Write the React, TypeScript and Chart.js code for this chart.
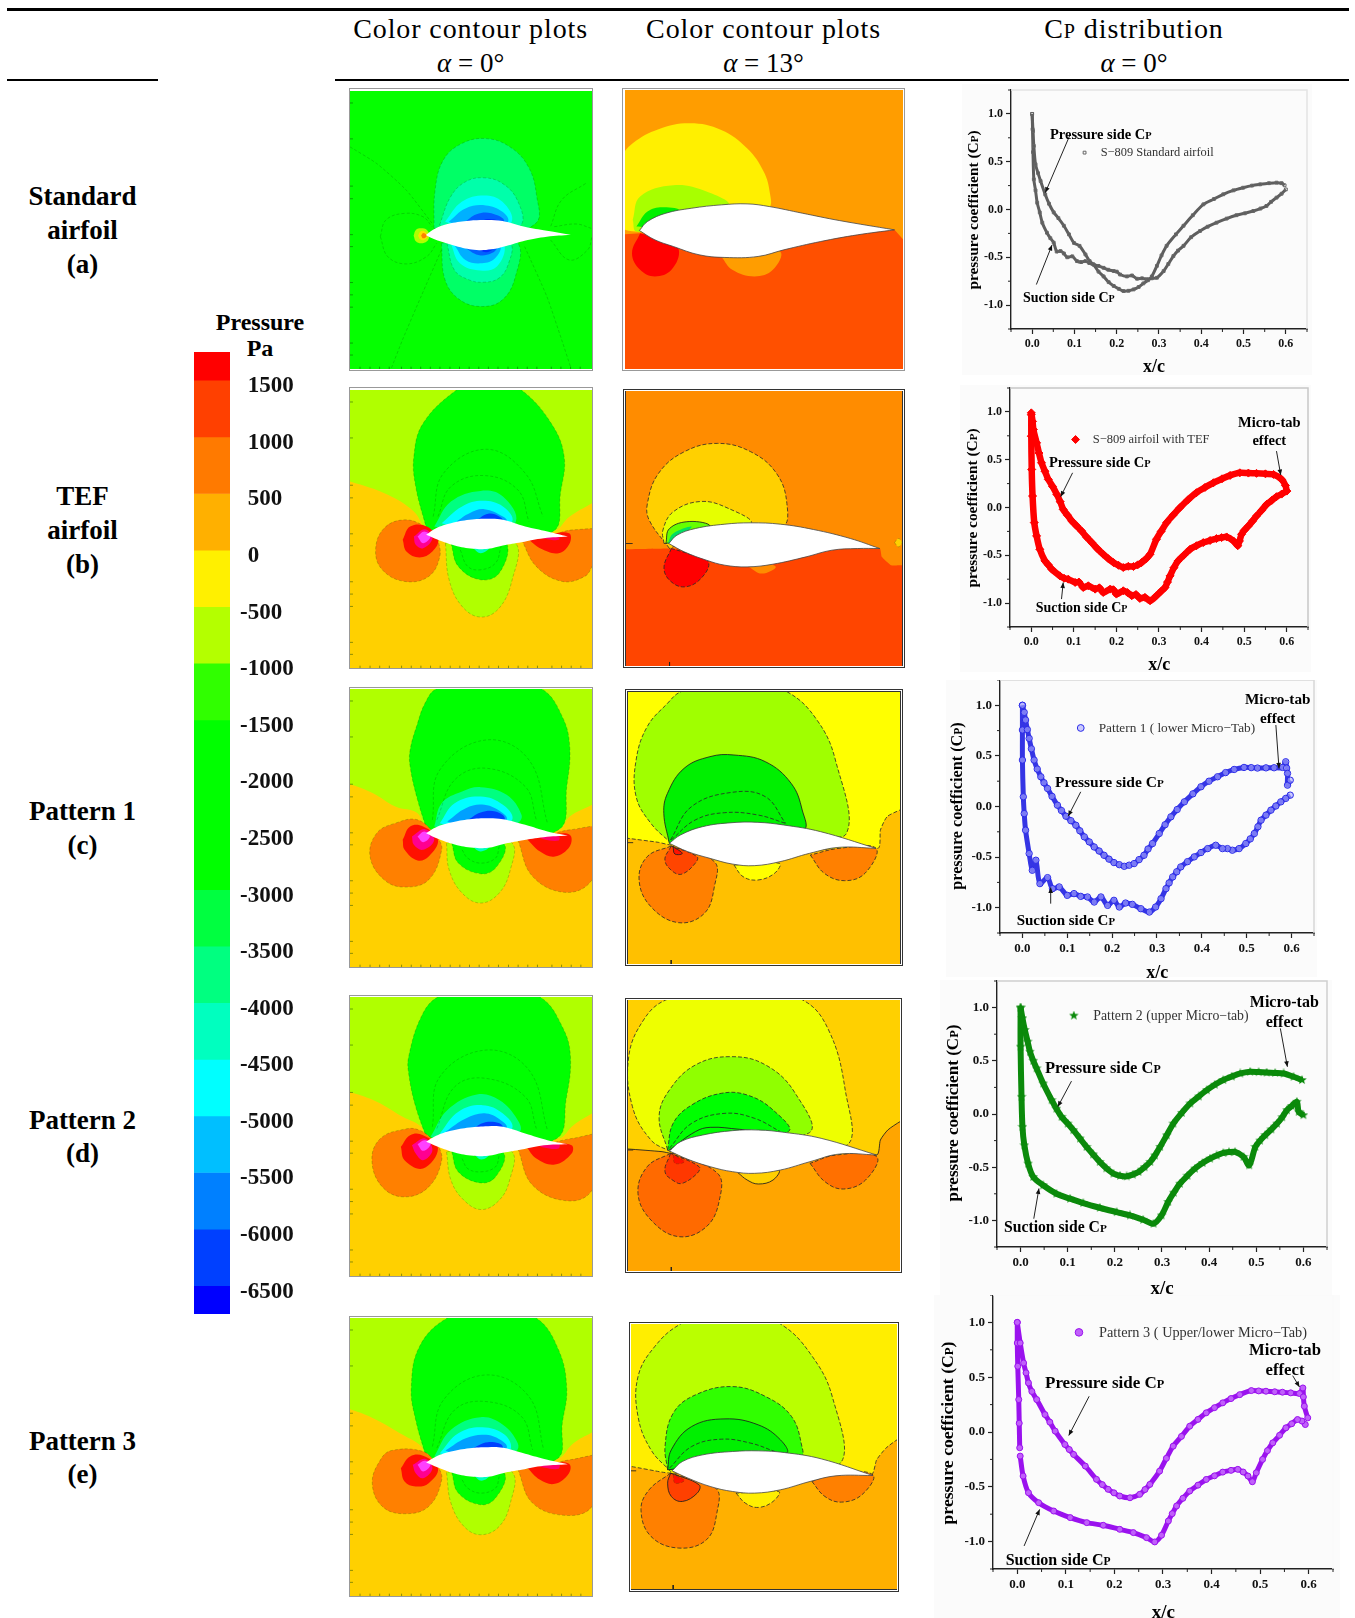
import React, { useEffect, useRef } from "react";
import { Chart, registerables } from "chart.js";
Chart.register(...registerables);

const SERIF = '"Liberation Serif", serif';

// ---------- Colour bar ----------
const pressureBounds = [1750, 1500, 1000, 500, 0, -500, -1000, -1500, -2000, -2500, -3000, -3500, -4000, -4500, -5000, -5500, -6000, -6500, -6750];
const pressureColors = ["#ff0000", "#ff4000", "#ff7a00", "#ffb000", "#fff000", "#b4ff00", "#30ff00", "#00ff00", "#00ff00", "#00ff00", "#00ff40", "#00ff80", "#00ffbf", "#00ffff", "#00bfff", "#0080ff", "#0040ff", "#0000ff"];
const pressureTicks = [1500, 1000, 500, 0, -500, -1000, -1500, -2000, -2500, -3000, -3500, -4000, -4500, -5000, -5500, -6000, -6500];

// ---------- Cp distributions [x/c, Cp] ----------
const standardPressure = [[0,1],[0.002,0.82],[0.004,0.665],[0.008,0.473],[0.014,0.38],[0.02,0.298],[0.031,0.157],[0.04,0.06],[0.051,-0.03],[0.062,-0.09],[0.075,-0.17],[0.087,-0.26],[0.099,-0.35],[0.112,-0.38],[0.126,-0.47],[0.136,-0.54],[0.145,-0.575],[0.157,-0.65],[0.169,-0.70],[0.181,-0.76],[0.193,-0.80],[0.205,-0.83],[0.216,-0.853],[0.228,-0.85],[0.24,-0.836],[0.252,-0.81],[0.263,-0.773],[0.274,-0.74],[0.283,-0.70],[0.295,-0.59],[0.306,-0.48],[0.318,-0.38],[0.34,-0.26],[0.358,-0.17],[0.38,-0.06],[0.405,0.054],[0.43,0.11],[0.452,0.159],[0.476,0.2],[0.499,0.228],[0.52,0.25],[0.539,0.263],[0.56,0.275],[0.578,0.281],[0.59,0.275],[0.597,0.253]];
const standardSuction = [[0.6,0.21],[0.59,0.165],[0.578,0.124],[0.565,0.08],[0.554,0.037],[0.54,0.01],[0.523,-0.016],[0.503,-0.04],[0.483,-0.06],[0.46,-0.095],[0.436,-0.138],[0.415,-0.18],[0.397,-0.225],[0.376,-0.29],[0.358,-0.38],[0.345,-0.43],[0.334,-0.487],[0.322,-0.57],[0.311,-0.644],[0.295,-0.714],[0.283,-0.72],[0.271,-0.73],[0.26,-0.72],[0.248,-0.724],[0.236,-0.69],[0.224,-0.70],[0.208,-0.68],[0.2,-0.65],[0.193,-0.644],[0.18,-0.63],[0.169,-0.61],[0.157,-0.59],[0.145,-0.575],[0.135,-0.56],[0.126,-0.54],[0.116,-0.55],[0.106,-0.54],[0.095,-0.49],[0.083,-0.50],[0.075,-0.46],[0.067,-0.435],[0.058,-0.44],[0.051,-0.347],[0.043,-0.30],[0.035,-0.243],[0.024,-0.138],[0.018,-0.03],[0.012,0.07],[0.008,0.2],[0.004,0.316],[0.002,0.6],[0.001,0.84],[0,1]];

const tefPressure = [[0,0.99],[0.003,0.9],[0.005,0.815],[0.0125,0.676],[0.018,0.57],[0.024,0.468],[0.032,0.38],[0.04,0.294],[0.05,0.22],[0.06,0.137],[0.068,0.06],[0.075,-0.02],[0.085,-0.08],[0.095,-0.14],[0.106,-0.19],[0.118,-0.245],[0.13,-0.31],[0.142,-0.367],[0.155,-0.43],[0.169,-0.489],[0.181,-0.535],[0.193,-0.576],[0.205,-0.605],[0.216,-0.628],[0.228,-0.615],[0.24,-0.617],[0.25,-0.6],[0.259,-0.576],[0.27,-0.535],[0.279,-0.489],[0.294,-0.332],[0.305,-0.25],[0.318,-0.158],[0.333,-0.08],[0.349,-0.002],[0.368,0.08],[0.388,0.155],[0.408,0.21],[0.428,0.259],[0.448,0.3],[0.467,0.336],[0.49,0.363],[0.51,0.36],[0.529,0.357],[0.55,0.352],[0.569,0.346],[0.588,0.294],[0.597,0.23],[0.6,0.172]];
const tefSuction = [[0.6,0.172],[0.588,0.14],[0.576,0.113],[0.565,0.075],[0.553,0.033],[0.541,-0.03],[0.529,-0.089],[0.52,-0.14],[0.51,-0.193],[0.5,-0.24],[0.494,-0.28],[0.489,-0.35],[0.485,-0.40],[0.475,-0.35],[0.459,-0.308],[0.447,-0.315],[0.435,-0.325],[0.42,-0.345],[0.404,-0.367],[0.388,-0.4],[0.373,-0.437],[0.358,-0.5],[0.345,-0.558],[0.335,-0.63],[0.326,-0.715],[0.32,-0.78],[0.314,-0.837],[0.304,-0.88],[0.294,-0.923],[0.279,-0.976],[0.267,-0.94],[0.255,-0.951],[0.246,-0.91],[0.236,-0.923],[0.226,-0.89],[0.216,-0.871],[0.2,-0.906],[0.193,-0.86],[0.185,-0.854],[0.169,-0.889],[0.16,-0.84],[0.15,-0.854],[0.134,-0.819],[0.122,-0.837],[0.112,-0.78],[0.103,-0.784],[0.087,-0.75],[0.077,-0.74],[0.067,-0.715],[0.048,-0.645],[0.04,-0.6],[0.032,-0.558],[0.02,-0.437],[0.0125,-0.297],[0.007,-0.158],[0.003,0.12],[0.001,0.398],[0,0.746],[0,0.97]];

const pattern1Pressure = [[0,1],[0.004,0.93],[0.007,0.855],[0.011,0.76],[0.015,0.673],[0.02,0.57],[0.026,0.459],[0.033,0.37],[0.041,0.294],[0.048,0.235],[0.056,0.178],[0.066,0.1],[0.078,0.013],[0.087,-0.04],[0.097,-0.096],[0.108,-0.14],[0.119,-0.185],[0.128,-0.24],[0.138,-0.30],[0.149,-0.35],[0.16,-0.40],[0.171,-0.44],[0.182,-0.482],[0.193,-0.52],[0.204,-0.554],[0.216,-0.575],[0.227,-0.591],[0.238,-0.58],[0.249,-0.564],[0.26,-0.525],[0.271,-0.482],[0.28,-0.42],[0.29,-0.366],[0.305,-0.267],[0.318,-0.18],[0.331,-0.102],[0.345,-0.03],[0.361,0.046],[0.38,0.125],[0.398,0.195],[0.416,0.25],[0.435,0.294],[0.453,0.335],[0.472,0.366],[0.494,0.386],[0.51,0.384],[0.524,0.38],[0.543,0.382],[0.561,0.383],[0.58,0.386],[0.587,0.442],[0.589,0.38],[0.591,0.327],[0.591,0.211],[0.597,0.26]];
const pattern1Suction = [[0.597,0.112],[0.587,0.08],[0.576,0.046],[0.565,0.005],[0.554,-0.036],[0.543,-0.085],[0.532,-0.135],[0.525,-0.2],[0.517,-0.267],[0.508,-0.32],[0.498,-0.366],[0.483,-0.416],[0.468,-0.432],[0.457,-0.416],[0.446,-0.416],[0.431,-0.383],[0.413,-0.416],[0.398,-0.455],[0.383,-0.498],[0.368,-0.545],[0.353,-0.597],[0.344,-0.645],[0.335,-0.696],[0.327,-0.755],[0.32,-0.812],[0.309,-0.911],[0.297,-0.993],[0.283,-1.043],[0.264,-1.01],[0.245,-0.967],[0.23,-0.954],[0.216,-0.993],[0.204,-0.927],[0.19,-0.977],[0.175,-0.894],[0.16,-0.944],[0.145,-0.894],[0.13,-0.888],[0.115,-0.861],[0.1,-0.878],[0.082,-0.795],[0.067,-0.812],[0.056,-0.703],[0.039,-0.762],[0.03,-0.531],[0.022,-0.63],[0.015,-0.465],[0.007,-0.234],[0.004,-0.07],[0.002,0.096],[0,0.459],[0,0.756],[0,1]];

const pattern2Pressure = [[0,1],[0.004,0.9],[0.009,0.79],[0.015,0.68],[0.02,0.585],[0.027,0.5],[0.034,0.429],[0.048,0.287],[0.066,0.13],[0.076,0.05],[0.087,-0.027],[0.1,-0.09],[0.112,-0.152],[0.126,-0.23],[0.14,-0.309],[0.154,-0.38],[0.168,-0.45],[0.182,-0.51],[0.197,-0.56],[0.211,-0.58],[0.225,-0.586],[0.238,-0.57],[0.25,-0.545],[0.263,-0.5],[0.275,-0.45],[0.285,-0.39],[0.296,-0.309],[0.31,-0.2],[0.324,-0.09],[0.342,0.01],[0.36,0.099],[0.378,0.165],[0.395,0.224],[0.412,0.275],[0.43,0.319],[0.448,0.352],[0.466,0.381],[0.487,0.397],[0.505,0.394],[0.522,0.39],[0.54,0.386],[0.558,0.381],[0.579,0.35],[0.597,0.319]];
const pattern2Suction = [[0.6,-0.011],[0.59,0.02],[0.586,0.115],[0.575,0.075],[0.565,0.036],[0.555,-0.03],[0.544,-0.09],[0.532,-0.145],[0.519,-0.199],[0.508,-0.25],[0.498,-0.309],[0.485,-0.482],[0.473,-0.403],[0.455,-0.356],[0.442,-0.358],[0.43,-0.366],[0.416,-0.39],[0.402,-0.419],[0.386,-0.46],[0.37,-0.513],[0.354,-0.58],[0.338,-0.655],[0.325,-0.74],[0.313,-0.827],[0.299,-0.953],[0.282,-1.031],[0.26,-0.994],[0.232,-0.953],[0.204,-0.922],[0.168,-0.881],[0.133,-0.837],[0.105,-0.796],[0.076,-0.749],[0.048,-0.67],[0.027,-0.592],[0.016,-0.466],[0.008,-0.294],[0.004,-0.121],[0.002,0.162],[0,0.633],[0,1]];

const pattern3Pressure = [[0,1],[0.006,0.812],[0.013,0.63],[0.018,0.54],[0.023,0.448],[0.03,0.37],[0.04,0.296],[0.057,0.159],[0.067,0.09],[0.078,0.008],[0.098,-0.114],[0.107,-0.16],[0.116,-0.205],[0.14,-0.311],[0.163,-0.432],[0.175,-0.48],[0.187,-0.523],[0.199,-0.555],[0.211,-0.584],[0.232,-0.6],[0.252,-0.569],[0.263,-0.525],[0.273,-0.478],[0.293,-0.357],[0.307,-0.24],[0.321,-0.129],[0.338,-0.04],[0.355,0.053],[0.372,0.115],[0.389,0.175],[0.406,0.222],[0.423,0.266],[0.44,0.305],[0.458,0.341],[0.482,0.378],[0.497,0.375],[0.512,0.372],[0.53,0.367],[0.546,0.363],[0.563,0.357],[0.581,0.351],[0.588,0.402],[0.589,0.32],[0.591,0.235],[0.598,0.129]];
const pattern3Suction = [[0.593,0.068],[0.586,0.1],[0.577,0.114],[0.565,0.075],[0.553,0.038],[0.54,-0.03],[0.526,-0.099],[0.515,-0.17],[0.505,-0.25],[0.492,-0.372],[0.484,-0.454],[0.475,-0.402],[0.465,-0.365],[0.454,-0.341],[0.44,-0.35],[0.423,-0.366],[0.406,-0.4],[0.389,-0.433],[0.372,-0.485],[0.355,-0.539],[0.341,-0.605],[0.328,-0.675],[0.319,-0.745],[0.311,-0.812],[0.297,-0.942],[0.283,-1.003],[0.266,-0.964],[0.239,-0.918],[0.211,-0.888],[0.177,-0.851],[0.143,-0.827],[0.109,-0.781],[0.075,-0.721],[0.044,-0.645],[0.023,-0.554],[0.012,-0.402],[0.006,-0.22]];
const pattern3Nose = [[0.005,-0.144],[0.004,0.08],[0.003,0.296],[0.001,0.6],[0,0.812],[0,1]];

const xRangeCp = [-0.05, 0.65];
const yRangeCp = [-1.25, 1.25];
const xTicksCp = [0, 0.1, 0.2, 0.3, 0.4, 0.5, 0.6];
const yTicksCp = [-1, -0.5, 0, 0.5, 1];
const xMinorCp = [-0.05, 0.05, 0.15, 0.25, 0.35, 0.45, 0.55, 0.65];
const yMinorCp = [-1.25, -0.75, -0.25, 0.25, 0.75, 1.25];

type Arrow = number[];
const cpCharts: any[] = [
  { box:[962,84,350,291], plot:[1011,1307,90,329], font:12, series:[standardPressure, standardSuction], color:"#666", line:3, lineColor:"#5e5e5e", style:"rect", r:2, lr:2, fill:"rgba(255,255,255,0)", legend:[0.124,0.595], frame:"#e4e4e4",
    arrows:[[0.089,0.775,0.031,0.176],[0.01,-0.785,0.047,-0.372]] },
  { box:[960,385,351,287], plot:[1010,1308,388,627], font:12, series:[tefPressure, tefSuction], color:"#ff0000", line:6.5, lineColor:"#ff0000", style:"rectRot", r:4, lr:4, fill:"#ff0000", legend:[0.104,0.711], frame:"#c8c8c8",
    arrows:[[0.097,0.363,0.069,0.113],[0.071,-0.958,0.075,-0.784],[0.576,0.59,0.586,0.339]] },
  { box:[946,680,371,297], plot:[1000,1314,680,933], font:13, series:[pattern1Pressure, pattern1Suction], color:"#2a2ae8", line:5, lineColor:"#3535e4", style:"circle", r:3.2, lr:3.4, fill:"rgba(170,170,255,0.6)", legend:[0.13,0.776], frame:"#d8d8d8",
    arrows:[[0.13,0.145,0.102,-0.096],[0.063,-0.96,0.063,-0.8],[0.565,0.805,0.572,0.376]] },
  { box:[940,980,392,315], plot:[997,1327,981,1247], font:13, series:[pattern2Pressure, pattern2Suction], color:"#0b8a0b", line:6, lineColor:"#0b8a0b", style:"star", r:4, lr:4, fill:"#0b8a0b", legend:[0.113,0.925], frame:"#d0d0d0",
    arrows:[[0.108,0.309,0.079,0.068],[0.028,-0.984,0.039,-0.7],[0.551,0.805,0.566,0.444]] },
  { box:[934,1295,406,323], plot:[993,1333,1295,1569], font:13, series:[pattern3Pressure, pattern3Suction, pattern3Nose], color:"#9a12ee", line:5, lineColor:"#9a12ee", style:"circle", r:3, lr:3.8, fill:"#c060fa", legend:[0.127,0.909], frame:"#fafafa",
    arrows:[[0.148,0.326,0.106,-0.032],[0.014,-1.04,0.046,-0.706],[0.567,0.514,0.581,0.411]] },
];

// ---------- Contour panels: each layer is [colour, stroke style, outline] in the panel's own field coordinates ----------
type Layer = { c: string | null; s?: string; t?: number; open?: boolean; p: number[] };
const L = (c: string | null, p: number[], s?: string, t?: number, open?: boolean): Layer => ({ c, p, s, t, open });

const panelA0: Layer[] = [
  L("#00ff66",[255,445,258,330,280,240,330,190,395,175,460,200,510,260,532,345,530,430,400,470],"thin"),
  L("#00ff66",[275,490,285,600,325,660,385,680,440,660,475,590,482,490,400,470],"thin"),
  L("#00ffaa",[270,435,300,350,340,305,390,293,440,310,480,360,490,435,400,470],"thin"),
  L("#00ffaa",[290,490,310,570,350,600,390,607,430,595,455,555,462,490,400,470],"thin"),
  L("#00ffff",[285,425,330,365,390,346,440,365,465,425,400,470]),
  L("#00ffff",[300,490,325,550,380,572,425,560,445,495,400,470]),
  L("#00b0ff",[295,425,340,385,395,376,440,395,455,425,400,470]),
  L("#00b0ff",[310,495,340,540,385,550,420,535,435,495,400,470]),
  L("#0060ff",[335,430,370,403,410,400,445,425,400,470]),
  L("#0060ff",[335,500,375,525,410,520,425,500,400,470]),
  L("#0030ff",[380,425,400,417,430,425,400,450]),
  L("#0030ff",[370,505,395,517,415,505,400,480]),
  L("#b0ff00",[200,467,206,450,220,445,236,450,242,467,236,484,220,490,206,484]),
  L("#ffe000",[212,467,218,455,228,453,238,467,228,480,218,478]),
  L("#ff8000",[220,467,226,459,236,467,226,475]),
  L(null,[110,470,125,420,175,400,225,410,250,440],"thin",0.4,true),
  L(null,[110,470,130,530,180,552,235,530,262,490],"thin",0.4,true),
  L(null,[665,310,600,360,570,440],"thin",0.4,true),
  L(null,[570,480,620,540,670,510,682,470],"thin",0.4,true),
  L(null,[580,440,640,432,680,445],"thin",0.4,true),
  L(null,[28,200,100,250,180,330,250,430],"thin",0.2,true),
  L(null,[275,510,220,650,170,780,140,865],"thin",0.2,true),
  L(null,[500,500,560,650,600,780,625,865],"thin",0.2,true),
];
const foilA0: Layer = L("#ffffff",[233,465,260,445,300,430,350,422,400,420,440,423,500,440,560,452,625,464,625,464,560,470,500,482,450,498,410,508,370,510,320,500,280,487,250,475]);

const panelA13: Layer[] = [
  L("#ff5000",[740,466,810,460,1500,450,1523,478,1560,500,1560,900,740,900],undefined,0),
  L("#fff000",[750,240,790,190,860,148,945,130,1030,150,1100,205,1145,275,1162,340,1160,385,1100,430,810,455,750,430]),
  L("#a8ff00",[790,420,810,350,900,316,990,335,1050,378,900,440,800,455]),
  L("#00f000",[800,440,830,395,870,382,915,392,830,440]),
  L("#ff0000",[810,460,788,520,810,570,850,590,895,570,915,510,880,480]),
  L("#ff9d00",[1030,530,1060,570,1120,590,1170,570,1190,515,1100,500]),
];
const foilA13: Layer = L("#ffffff",[808,452,830,425,880,400,950,385,1030,375,1100,372,1160,380,1250,400,1350,422,1500,450,1500,450,1400,465,1300,485,1200,510,1130,530,1040,533,970,525,900,500,850,480],"foil");

const panelB0: Layer[] = [
  L("#b0ff00",[-30,-20,720,-20,720,345,680,370,620,410,575,455,400,470,240,450,200,395,130,345,28,305,-30,290]),
  L("#b0ff00",[285,490,295,600,330,680,380,712,430,685,465,600,475,490,380,470],"thin"),
  L("#00ff00",[235,450,205,320,200,230,225,130,315,30,400,-20,490,30,570,130,605,230,595,340,575,455,400,470],"thin"),
  L("#00ff00",[300,490,320,560,380,600,430,580,450,490,380,470],"thin"),
  L("#00ff80",[255,440,300,365,380,333,440,350,475,425,400,470]),
  L("#00ffff",[275,430,330,380,385,363,440,380,465,425,400,470]),
  L("#00a0ff",[315,425,350,400,390,388,440,410,450,425,400,470]),
  L("#0040ff",[365,425,400,402,430,410,440,425,400,470]),
  L("#00ffc0",[355,500,380,520,405,500,380,480]),
  L("#ff8000",[265,475,270,530,240,590,175,605,115,570,97,510,120,445,175,420,230,440],"thin"),
  L("#ff1000",[170,480,190,440,235,440,265,480,250,515,215,533,180,515]),
  L("#ff0090",[200,470,230,448,250,475,225,505,205,495]),
  L("#ff40ff",[210,470,228,455,245,470,225,490]),
  L("#ff8000",[490,480,530,560,600,605,660,590,680,560,720,460,630,450,560,470],"thin"),
  L("#ff1000",[510,480,540,505,590,520,620,490,618,460,560,465]),
  L("#ff0070",[530,470,590,468,590,480,560,478]),
  L(null,[252,410,280,280,395,208,500,280,548,410],"thin",0.4,true),
  L(null,[265,410,300,320,390,287,480,330,510,425],"thin",0.4,true),
  L(null,[325,510,345,560,380,570,420,550,435,500],"thin",0.4,true),
];
const foilB0: Layer = L("#ffffff",[233,465,260,445,300,430,350,420,400,417,440,420,500,440,560,455,615,470,615,470,550,475,490,487,440,497,400,507,360,507,310,497,265,480]);

const panelB13: Layer[] = [
  L("#ff4500",[740,508,890,505,1460,505,1465,530,1490,555,1520,555,1560,555,1560,900,740,900],undefined,0.1),
  L("#ffd000",[890,505,835,420,830,370,860,280,930,215,1020,190,1110,215,1180,280,1208,370,1195,440,1000,450],"dash"),
  L("#e6ff00",[875,490,872,450,900,395,975,364,1050,385,1110,430,950,480],"dash"),
  L("#66ff00",[880,490,890,445,945,424,1000,438,950,470],"solid"),
  L("#00e060",[885,490,900,460,950,440,905,480]),
  L("#ff0000",[895,505,875,560,890,600,930,620,975,595,995,545,940,520],"dash"),
  L("#ff8c00",[1105,560,1140,580,1178,560,1140,550]),
  L("#ffd000",[1500,487,1510,475,1520,487,1510,500],"thin"),
  L(null,[772,490,790,490],"solid",0,true),
  L(null,[890,845,890,857],"solid",0,true),
];
const foilB13: Layer = L("#ffffff",[888,490,910,465,960,445,1040,432,1110,428,1190,432,1280,448,1380,475,1460,505,1460,505,1400,505,1330,510,1260,530,1170,552,1100,560,1040,555,990,540,930,515],"foil");

const panelC0: Layer[] = [
  L("#b0ff00",[-30,-20,720,-20,720,350,680,375,620,410,590,450,400,470,235,450,210,400,150,380,90,340,28,313,-30,300]),
  L("#00ff00",[235,450,210,360,190,260,190,210,210,130,230,70,260,27,400,-30,545,27,600,110,620,200,612,320,590,450,400,470],"thin"),
  L("#b0ff00",[288,490,295,570,330,640,380,670,430,640,460,570,465,490,380,470],"thin"),
  L("#00ff00",[302,490,320,550,380,582,420,565,445,495,380,470],"thin"),
  L("#00ff80",[255,440,275,370,330,335,380,322,450,345,490,405,480,430,400,470]),
  L("#00ffff",[270,430,310,370,380,350,440,375,465,420,400,470]),
  L("#00a0ff",[290,425,340,385,390,375,440,400,450,420,400,470]),
  L("#0040ff",[340,425,380,398,420,395,445,418,400,470]),
  L("#00ffc0",[355,498,380,515,405,498,380,480]),
  L("#ff8000",[265,470,275,510,240,600,175,622,120,600,82,530,100,460,150,430,210,420],"thin"),
  L("#ff1000",[170,480,190,440,225,440,265,480,240,530,210,542,175,510]),
  L("#ff0090",[195,470,230,448,255,480,225,510,200,495]),
  L("#ff40ff",[210,470,228,455,243,470,225,487]),
  L("#ff8000",[480,480,520,590,610,638,680,600,720,450,620,450,550,470],"thin"),
  L("#ff1000",[505,478,540,515,580,530,620,500,620,465,570,465]),
  L("#ff0070",[530,468,590,468,590,482,550,478]),
  L(null,[250,420,270,270,395,180,510,240,560,430],"thin",0.4,true),
  L(null,[262,420,310,300,395,265,500,320,530,420],"thin",0.4,true),
  L(null,[330,510,345,535,380,550,420,535,430,500],"thin",0.4,true),
];
const foilC0: Layer = L("#ffffff",[233,460,260,442,300,428,350,418,400,415,440,418,500,435,560,455,615,467,615,467,550,472,490,482,440,493,400,504,360,504,310,494,265,477]);

const panelC13: Layer[] = [
  L("#ffc000",[740,470,778,475,860,487,895,495,1455,505,1462,450,1480,410,1515,390,1560,370,1560,900,740,900],"dash",0.2),
  L("#a0ff00",[895,490,840,430,800,350,800,240,830,140,885,70,920,36,1065,-20,1210,36,1290,120,1340,240,1370,460,1250,450],"dash"),
  L("#00f000",[890,490,875,400,885,340,930,265,1000,230,1065,225,1150,245,1220,310,1250,390,1252,450],"solid"),
  L(null,[893,480,950,380,1060,337,1150,350,1205,430],"dash",0.4,true),
  L(null,[895,480,960,420,1040,398,1130,405,1205,430],"dash",0.4,true),
  L("#ff8000",[895,498,830,530,808,600,840,680,915,728,985,700,1012,620,1012,545],"dash"),
  L("#ff4500",[895,498,878,540,900,575,925,582,960,550,965,530],"dash"),
  L("#ff1000",[900,500,905,522,925,520],"solid"),
  L("#ffff00",[1065,555,1090,590,1130,600,1175,580,1188,550],"dash"),
  L("#ff8000",[1272,525,1310,580,1365,602,1420,580,1450,505,1350,505],"dash"),
  L(null,[778,488,792,488],"solid",0,true),
  L(null,[895,840,895,852],"solid",0,true),
];
const foilC13: Layer = L("#ffffff",[890,490,920,465,980,440,1060,428,1130,427,1200,435,1300,455,1450,505,1450,505,1350,502,1270,520,1190,545,1120,557,1060,552,1000,535,940,515],"foil");

const panelD0: Layer[] = [
  L("#b0ff00",[-30,-20,720,-20,720,345,680,370,630,405,590,445,400,470,235,445,220,410,170,380,100,335,28,306,-30,290]),
  L("#00ff00",[235,445,205,350,186,250,186,200,220,80,265,21,400,-30,540,21,600,110,622,200,610,330,585,445,400,470],"thin"),
  L("#b0ff00",[288,485,300,570,335,630,382,658,430,630,458,570,465,485,380,470],"thin"),
  L("#00ff00",[302,485,320,545,380,578,420,560,443,490,380,470],"thin"),
  L("#00ff80",[245,440,290,360,370,313,430,330,480,390,485,425,400,470]),
  L("#00ffff",[270,430,320,365,385,345,440,370,465,415,400,470]),
  L("#00a0ff",[285,425,340,385,395,370,440,395,450,415,400,470]),
  L("#0040ff",[350,420,400,395,440,410,400,470]),
  L("#00ffc0",[360,490,382,508,405,490,380,475]),
  L("#ff8000",[265,460,275,510,240,590,175,620,115,590,87,510,110,445,175,417,215,420],"thin"),
  L("#ff1000",[165,470,190,435,225,435,265,475,225,535,175,510]),
  L("#ff0090",[195,465,230,445,250,480,225,510,205,490]),
  L("#ff40ff",[210,462,228,450,245,462,225,482]),
  L("#ff8000",[480,475,520,585,615,632,680,600,720,440,625,445,550,465],"thin"),
  L("#ff1000",[503,470,530,505,580,523,625,490,625,465,570,460]),
  L("#ff0070",[530,462,590,460,590,475,550,472]),
  L(null,[250,410,270,260,395,180,510,240,560,420],"thin",0.4,true),
  L(null,[262,415,310,290,395,265,500,320,530,415],"thin",0.4,true),
  L(null,[330,505,345,535,380,545,420,530,430,495],"thin",0.4,true),
];
const foilD0: Layer = L("#ffffff",[233,455,260,437,300,422,350,412,400,408,440,410,500,430,560,450,615,462,615,462,550,465,490,478,440,488,400,497,360,497,310,487,265,470]);

const panelD13: Layer[] = [
  L("#ffa500",[740,475,778,477,870,485,895,490,1450,495,1460,450,1480,420,1513,395,1560,370,1560,900,740,900],"solid",0.2),
  L("#eeff00",[893,485,840,450,790,350,780,200,820,90,880,30,1065,-30,1250,30,1320,120,1365,300,1370,465,1200,430],"dash"),
  L("#90ff00",[885,480,862,380,890,300,960,225,1055,200,1150,225,1230,310,1265,430],"dash"),
  L("#00ff00",[885,480,900,400,950,345,1030,310,1100,315,1170,360,1210,425],"dash"),
  L(null,[890,475,950,400,1040,370,1120,385,1190,425],"dash",0.4,true),
  L(null,[890,480,960,425,1000,412,1080,418,1150,425],"solid",0.4,true),
  L("#ff6a00",[893,490,830,530,805,610,840,690,915,740,990,710,1025,630,1020,550],"dash"),
  L("#ff3800",[893,490,878,545,905,575,925,580,965,550,970,530],"dash"),
  L("#ff1000",[900,495,905,520,930,515],"thin"),
  L("#ffd000",[1075,548,1100,570,1130,582,1170,570,1185,540],"solid"),
  L("#ff7000",[1270,520,1310,575,1360,597,1420,570,1450,500,1340,495],"dash"),
  L(null,[778,480,792,480],"solid",0,true),
  L(null,[895,831,895,843],"solid",0,true),
];
const foilD13: Layer = L("#ffffff",[890,483,920,455,980,435,1060,422,1130,420,1200,427,1300,445,1450,495,1450,495,1350,492,1270,515,1190,540,1120,550,1060,545,1000,530,940,508],"foil");

const panelE0: Layer[] = [
  L("#b0ff00",[-30,-20,720,-20,720,345,680,368,630,400,585,448,400,470,235,448,220,410,170,375,100,330,28,298,-30,285]),
  L("#00ff00",[235,448,205,330,193,235,215,110,290,24,410,-20,530,24,590,120,612,235,600,340,585,448,400,470],"thin"),
  L("#b0ff00",[288,488,300,580,335,650,380,675,430,650,460,580,466,488,380,470],"thin"),
  L("#00ff00",[302,488,320,550,380,585,420,565,445,492,380,470],"thin"),
  L("#00ff80",[255,440,300,360,380,322,440,345,480,400,475,425,400,470]),
  L("#00ffff",[270,430,320,370,385,352,445,375,460,420,400,470]),
  L("#00a0ff",[285,422,340,385,395,375,440,395,450,415,400,470]),
  L("#0040ff",[350,420,400,397,440,412,400,470]),
  L("#00ffc0",[360,495,382,513,405,495,380,480]),
  L("#ff8000",[265,465,275,510,240,590,175,612,115,590,88,520,110,450,140,422,225,425],"thin"),
  L("#ff1000",[165,475,190,440,225,438,265,475,240,520,205,530,175,515]),
  L("#ff0090",[197,465,230,447,250,475,225,505,205,490]),
  L("#ff40ff",[210,465,228,453,245,465,225,485]),
  L("#ff8000",[480,478,520,580,610,617,680,590,720,445,620,450,550,470],"thin"),
  L("#ff1000",[505,473,540,510,580,522,618,490,618,462,570,460]),
  L("#ff0070",[530,465,590,462,590,477,550,473]),
  L(null,[250,410,280,270,395,195,510,260,550,420],"thin",0.4,true),
  L(null,[262,415,310,300,395,275,490,320,520,420],"thin",0.4,true),
  L(null,[330,510,345,535,380,550,420,535,430,500],"thin",0.4,true),
];
const foilE0: Layer = L("#ffffff",[233,458,260,440,300,425,350,415,400,412,440,414,500,432,560,450,615,463,615,463,550,468,490,480,440,490,400,501,360,501,310,491,265,473]);

const panelE13: Layer[] = [
  L("#ffb000",[740,465,786,470,870,487,895,490,1435,495,1450,450,1475,415,1505,390,1550,365,1550,880,740,880],"dash",0.2),
  L("#baff00",[893,485,840,420,805,320,805,200,850,110,920,42,1055,-20,1190,42,1270,130,1330,260,1352,460,1200,430],"dash"),
  L("#30ff00",[885,480,878,410,900,310,960,255,1060,230,1150,260,1220,320,1248,410,1245,440],"dash"),
  L("#00f000",[885,480,895,420,950,350,1040,327,1130,345,1190,390,1205,430],"solid"),
  L(null,[890,475,950,410,1030,388,1110,400,1175,425],"dash",0.4,true),
  L("#ff8000",[893,490,835,540,813,600,840,680,915,715,990,690,1018,610,1015,535],"dash"),
  L("#ff4000",[893,490,885,520,895,560,925,575,965,550,970,525],"solid"),
  L("#ff1000",[900,495,905,520,930,512],"thin"),
  L("#ffee00",[1070,550,1095,580,1130,593,1170,575,1185,545],"dash"),
  L("#ff8000",[1275,515,1310,560,1355,577,1410,555,1440,495,1340,490],"dash"),
  L(null,[786,483,800,483],"solid",0,true),
  L(null,[900,826,900,838],"solid",0,true),
];
const foilE13: Layer = L("#ffffff",[897,483,925,455,980,435,1060,425,1130,423,1200,428,1300,447,1440,497,1440,497,1340,498,1270,515,1190,540,1120,550,1060,545,1000,530,940,505],"foil");

const yTickOffsets = [36, 144, 286, 324, 432, 468, 576, 613, 650, 758, 794];
const xTickStops = [55, 82, 108, 134, 167, 193, 219, 245, 271, 298, 324, 350, 376, 402, 428, 455, 481, 507, 533, 572, 598, 624, 650];

const contourPanels: any[] = [
  { frame:[349,88,244,283], inner:[350,91,242,278], bg:"#05ff00", range:[28,682,32,868], layers:panelA0, foil:foilA0, ticks:true, thick:false },
  { frame:[622,88,283,283], inner:[625,90,278,279], bg:"#ff9d00", range:[769,1523,30,868], layers:panelA13, foil:foilA13, ticks:false, thick:false },
  { frame:[349,387,244,282], inner:[350,390,242,278], bg:"#ffd000", range:[28,680,30,865], layers:panelB0, foil:foilB0, ticks:true, thick:false },
  { frame:[623,389,282,279], inner:[626,391,276,275], bg:"#ff8c00", range:[772,1520,33,857], layers:panelB13, foil:foilB13, ticks:false, thick:true },
  { frame:[349,687,244,281], inner:[350,689,242,278], bg:"#ffd000", range:[28,680,27,862], layers:panelC0, foil:foilC0, ticks:true, thick:false },
  { frame:[625,689,278,277], inner:[628,692,272,272], bg:"#ffff00", range:[778,1515,36,852], layers:panelC13, foil:foilC13, ticks:false, thick:true },
  { frame:[349,995,244,282], inner:[350,997,242,279], bg:"#ffd000", range:[28,680,21,857], layers:panelD0, foil:foilD0, ticks:true, thick:false },
  { frame:[625,998,277,275], inner:[628,1000,272,271], bg:"#ffd000", range:[778,1513,30,843], layers:panelD13, foil:foilD13, ticks:false, thick:true },
  { frame:[349,1316,244,281], inner:[350,1318,242,278], bg:"#ffd000", range:[28,680,24,859], layers:panelE0, foil:foilE0, ticks:true, thick:false },
  { frame:[629,1322,270,270], inner:[631,1324,266,265], bg:"#ffee00", range:[786,1505,42,838], layers:panelE13, foil:foilE13, ticks:false, thick:true },
];

// ---------- Helpers ----------
const toPts = (a: number[]) => {
  const out: any[] = [];
  for (let i = 0; i < a.length; i += 2) out.push({ x: a[i], y: a[i + 1] });
  return out;
};
const styleOf = (s?: string) => {
  if (s === "thin") return { borderColor: "rgba(0,70,0,0.28)", borderWidth: 0.8, borderDash: [3, 2] };
  if (s === "dash") return { borderColor: "rgba(40,40,40,0.8)", borderWidth: 1, borderDash: [4, 2] };
  if (s === "solid") return { borderColor: "rgba(30,30,30,0.85)", borderWidth: 1, borderDash: [] };
  if (s === "foil") return { borderColor: "rgba(70,70,70,0.8)", borderWidth: 1, borderDash: [] };
  return { borderColor: "transparent", borderWidth: 0, borderDash: [] };
};
const layerDataset = (l: Layer) => {
  const pts = toPts(l.p);
  if (!l.open) pts.push({ ...pts[0] });
  return {
    data: pts,
    showLine: true,
    pointRadius: 0,
    tension: l.t === undefined ? 0.4 : l.t,
    capBezierPoints: false,
    fill: l.c ? "shape" : false,
    backgroundColor: l.c || "transparent",
    ...styleOf(l.s),
  };
};

function contourConfig(p: any) {
  const [xa, xb, ya, yb] = p.range;
  const list = [...p.layers, p.foil];
  const datasets: any[] = list.map(layerDataset);
  if (p.ticks) {
    const tickPts: any[] = [];
    yTickOffsets.forEach((o) => tickPts.push({ x: xa, y: ya + o }, { x: xa + 8, y: ya + o }, { x: NaN, y: NaN }));
    xTickStops.forEach((x) => tickPts.push({ x, y: yb }, { x, y: yb - 7 }, { x: NaN, y: NaN }));
    datasets.push({ data: tickPts, showLine: true, pointRadius: 0, borderColor: "rgba(0,60,0,0.45)", borderWidth: 1, fill: false });
  }
  datasets.reverse();
  return {
    type: "scatter",
    data: { datasets },
    options: {
      animation: false, responsive: false, devicePixelRatio: 1, events: [],
      layout: { padding: 0, autoPadding: false },
      plugins: { legend: { display: false }, tooltip: { enabled: false }, filler: { drawTime: "beforeDatasetDraw" } },
      scales: {
        x: { type: "linear", display: false, min: xa, max: xb },
        y: { type: "linear", display: false, min: ya, max: yb, reverse: true },
      },
    },
  };
}

function starCanvas(size: number, color: string) {
  const c = document.createElement("canvas");
  c.width = c.height = size;
  const g = c.getContext("2d")!;
  g.fillStyle = color;
  g.beginPath();
  const R = size / 2, r = R * 0.42;
  for (let i = 0; i < 10; i++) {
    const a = -Math.PI / 2 + (i * Math.PI) / 5;
    const q = i % 2 ? r : R;
    g.lineTo(R + q * Math.cos(a), R + q * Math.sin(a));
  }
  g.closePath();
  g.fill();
  return c;
}

const zeroScalePadding = (s: any) => {
  s.paddingTop = 0; s.paddingBottom = 0; s.paddingLeft = 0; s.paddingRight = 0;
};

function cpConfig(c: any) {
  const [bx, by, bw, bh] = c.box;
  const [pl, pr, pt, pb] = c.plot;
  const axisW = 40, axisH = 26;
  const marker = c.style === "star" ? starCanvas(10, c.color) : c.style;
  const pointOpts = {
    pointStyle: marker,
    pointBorderColor: c.color,
    pointBackgroundColor: c.fill,
    pointBorderWidth: 1,
  };
  const datasets: any[] = c.series.map((s: number[][]) => ({
    data: s.map(([x, y]) => ({ x, y })),
    showLine: true,
    borderColor: c.lineColor,
    borderWidth: c.line,
    tension: 0.3,
    fill: false,
    pointRadius: c.r,
    ...pointOpts,
  }));
  datasets.push({ data: [{ x: c.legend[0], y: c.legend[1] }], showLine: false, pointRadius: c.lr, ...pointOpts });
  const minorPlugin = {
    id: "cpDecor",
    afterDraw(chart: any) {
      const { ctx, chartArea: a, scales: { x, y } } = chart;
      ctx.save();
      ctx.strokeStyle = c.frame;
      ctx.lineWidth = 1.5;
      ctx.beginPath();
      ctx.moveTo(a.left, a.top); ctx.lineTo(a.right, a.top); ctx.lineTo(a.right, a.bottom);
      ctx.stroke();
      ctx.strokeStyle = "#222";
      ctx.lineWidth = 1;
      ctx.beginPath();
      xMinorCp.forEach((v) => {
        const px = x.getPixelForValue(v);
        ctx.moveTo(px, a.bottom); ctx.lineTo(px, a.bottom + 3);
      });
      yMinorCp.forEach((v) => {
        const py = y.getPixelForValue(v);
        ctx.moveTo(a.left, py); ctx.lineTo(a.left - 3, py);
      });
      ctx.stroke();
      ctx.fillStyle = "#111";
      ctx.lineWidth = 1;
      c.arrows.forEach((ar: Arrow) => {
        const x1 = x.getPixelForValue(ar[0]), y1 = y.getPixelForValue(ar[1]);
        const x2 = x.getPixelForValue(ar[2]), y2 = y.getPixelForValue(ar[3]);
        const ang = Math.atan2(y2 - y1, x2 - x1);
        ctx.beginPath(); ctx.moveTo(x1, y1); ctx.lineTo(x2, y2); ctx.stroke();
        ctx.beginPath();
        ctx.moveTo(x2, y2);
        ctx.lineTo(x2 - 6 * Math.cos(ang - 0.4), y2 - 6 * Math.sin(ang - 0.4));
        ctx.lineTo(x2 - 6 * Math.cos(ang + 0.4), y2 - 6 * Math.sin(ang + 0.4));
        ctx.closePath(); ctx.fill();
      });
      ctx.restore();
    },
  };
  const axisCommon = {
    type: "linear",
    border: { display: true, color: "#222", width: 1.4 },
    grid: { display: true, drawOnChartArea: false, drawTicks: true, tickLength: 5, tickColor: "#222", tickWidth: 1.2 },
  };
  const tickFont = { family: SERIF, size: c.font, weight: "bold" };
  const fmt = (v: number) => (Math.abs(v) < 1e-9 ? "0.0" : Number(v).toFixed(1));
  return {
    type: "scatter",
    data: { datasets },
    plugins: [minorPlugin],
    options: {
      animation: false, responsive: false, devicePixelRatio: 1, events: [],
      layout: { autoPadding: false, padding: { left: pl - bx - axisW, right: bx + bw - pr, top: pt - by, bottom: by + bh - pb - axisH } },
      plugins: { legend: { display: false }, tooltip: { enabled: false } },
      scales: {
        x: { ...axisCommon, min: xRangeCp[0], max: xRangeCp[1], afterFit: (s: any) => { s.height = axisH; zeroScalePadding(s); },
          afterBuildTicks: (s: any) => { s.ticks = xTicksCp.map((value) => ({ value })); },
          ticks: { autoSkip: false, maxRotation: 0, color: "#111", font: tickFont, padding: 3, callback: fmt } },
        y: { ...axisCommon, min: yRangeCp[0], max: yRangeCp[1], afterFit: (s: any) => { s.width = axisW; zeroScalePadding(s); },
          afterBuildTicks: (s: any) => { s.ticks = yTicksCp.map((value) => ({ value })); },
          ticks: { autoSkip: false, color: "#111", font: tickFont, padding: 3, callback: fmt } },
      },
    },
  };
}

function colorbarConfig() {
  const datasets = pressureColors.map((col, i) => ({
    data: [[pressureBounds[i + 1], pressureBounds[i]]],
    backgroundColor: col,
    borderWidth: 0,
    barPercentage: 1,
    categoryPercentage: 1,
    grouped: false,
  }));
  return {
    type: "bar",
    data: { labels: ["Pressure"], datasets },
    options: {
      animation: false, responsive: false, devicePixelRatio: 1, events: [],
      layout: { autoPadding: false, padding: 0 },
      plugins: { legend: { display: false }, tooltip: { enabled: false } },
      scales: {
        x: { display: false },
        y: {
          position: "right", min: -6750, max: 1750,
          grid: { display: false }, border: { display: false },
          afterFit: (s: any) => { s.width = 76; zeroScalePadding(s); },
          afterBuildTicks: (s: any) => { s.ticks = pressureTicks.map((value) => ({ value })); },
          ticks: {
            autoSkip: false, color: "#111", padding: 2, labelOffset: 6,
            font: { family: SERIF, size: 23, weight: "bold" },
            callback: (v: number) => (v >= 0 ? "\u2004" + v : "-" + Math.abs(v)),
          },
        },
      },
    },
  };
}

function ChartBox({ rect, make, bg }: { rect: number[]; make: () => any; bg?: string }) {
  const ref = useRef<HTMLCanvasElement>(null);
  useEffect(() => {
    const chart = new Chart(ref.current as any, make());
    return () => chart.destroy();
  }, []);
  return (
    <canvas
      ref={ref}
      width={rect[2]}
      height={rect[3]}
      style={{ position: "absolute", left: rect[0], top: rect[1], width: rect[2], height: rect[3], display: "block", background: bg }}
    />
  );
}

const P = () => <span style={{ fontSize: "0.72em" }}>P</span>;

function Txt({ x, y, size, bold, center, w, children, color, rot, ls }: any) {
  const tf = [center ? "translate(-50%,-50%)" : "translateY(-50%)", rot ? `rotate(${rot}deg)` : ""].join(" ");
  return (
    <div
      style={{
        position: "absolute", left: x, top: y, transform: tf, whiteSpace: "nowrap", fontFamily: SERIF,
        fontSize: size, fontWeight: bold ? 700 : 400, color: color || "#000", width: w, lineHeight: 1.1, letterSpacing: ls,
      }}
    >
      {children}
    </div>
  );
}

const rowLabels: [string, number, number][] = [
  ["Standard", 82.5, 197], ["airfoil", 82.5, 231], ["(a)", 82.5, 265],
  ["TEF", 82.5, 496.5], ["airfoil", 82.5, 530.5], ["(b)", 82.5, 564.5],
  ["Pattern 1", 82.5, 812], ["(c)", 82.5, 846],
  ["Pattern 2", 82.5, 1120.6], ["(d)", 82.5, 1153.7],
  ["Pattern 3", 82.5, 1441.6], ["(e)", 82.5, 1474.7],
];
const cpPressureLabels = [[1050, 135, 14.5], [1049, 462.7, 14.5], [1055, 781.7, 15.5], [1045, 1068.3, 16.5], [1045, 1382.7, 17]];
const cpSuctionLabels = [[1023, 298, 14], [1035.7, 607.7, 14], [1016.7, 920, 15], [1004, 1226.7, 15.7], [1005.7, 1560, 16]];
const microLabels = [[1269.3, 422.7, 441, 14.5], [1277.7, 699.3, 717.7, 15.2], [1284.3, 1001.7, 1021.7, 16], [1285, 1350, 1370, 16.7]];
const legendLabels: [string, number, number, number][] = [
  ["S\u2212809 Standard airfoil", 1100.7, 153.3, 12.4],
  ["S\u2212809 airfoil with TEF", 1092.7, 440, 12.5],
  ["Pattern 1 ( lower Micro\u2212Tab)", 1098.7, 728, 13.3],
  ["Pattern 2 (upper Micro\u2212tab)", 1093.3, 1015.7, 13.8],
  ["Pattern 3 ( Upper/lower Micro\u2212Tab)", 1099, 1332.7, 14.3],
];
const yTitles = [[972.7, 210, 15.4], [972.3, 508.3, 15.4], [958.3, 806, 16.2], [952.7, 1112.7, 17.1], [948.3, 1432.7, 17.7]];
const xTitles = [[1154, 366.7, 18], [1159.3, 665, 18], [1157.3, 972.7, 18], [1162, 1288, 19], [1163.3, 1612, 19]];

export default function App() {
  useEffect(() => {
    document.body.style.margin = "0";
    document.body.style.background = "#fff";
  }, []);
  return (
    <div style={{ position: "absolute", left: 0, top: 0, width: 1355, height: 1618, overflow: "hidden", background: "#fff" }}>
      {/* rules */}
      <div style={{ position: "absolute", left: 7, top: 8, width: 1342, height: 3, background: "#000" }} />
      <div style={{ position: "absolute", left: 7, top: 79, width: 151, height: 2, background: "#000" }} />
      <div style={{ position: "absolute", left: 335, top: 79, width: 1014, height: 2, background: "#000" }} />
      {/* headers */}
      <Txt x={470.6} y={29} size={28} center ls={0.9}>Color contour plots</Txt>
      <Txt x={763.5} y={29} size={28} center ls={0.9}>Color contour plots</Txt>
      <Txt x={1134} y={29} size={28} center ls={0.9}>C<P /> distribution</Txt>
      <Txt x={470.6} y={64} size={27} center><i>α</i> = 0°</Txt>
      <Txt x={763.5} y={64} size={27} center><i>α</i> = 13°</Txt>
      <Txt x={1134} y={64} size={27} center><i>α</i> = 0°</Txt>
      {rowLabels.map(([t, x, y], i) => (
        <Txt key={i} x={x} y={y} size={27} bold center>{t}</Txt>
      ))}
      {/* colour bar */}
      <Txt x={260} y={322} size={24} bold center>Pressure</Txt>
      <Txt x={260} y={348} size={24} bold center>Pa</Txt>
      <ChartBox rect={[194, 352, 112, 962]} make={colorbarConfig} />
      {/* contour panels */}
      {contourPanels.map((p, i) => (
        <React.Fragment key={i}>
          <div
            style={{
              position: "absolute", left: p.frame[0], top: p.frame[1], width: p.frame[2], height: p.frame[3], boxSizing: "border-box",
              border: p.thick ? "3px double #333" : "1px solid #999", background: "#fff",
            }}
          />
          <ChartBox rect={p.inner} make={() => contourConfig(p)} bg={p.bg} />
        </React.Fragment>
      ))}
      {/* Cp charts */}
      {cpCharts.map((c, i) => (
        <ChartBox key={i} rect={c.box} make={() => cpConfig(c)} bg="#fbfbfb" />
      ))}
      {cpPressureLabels.map(([x, y, s], i) => (
        <Txt key={i} x={x} y={y} size={s} bold>Pressure side C<P /></Txt>
      ))}
      {cpSuctionLabels.map(([x, y, s], i) => (
        <Txt key={i} x={x} y={y} size={s} bold>Suction side C<P /></Txt>
      ))}
      {microLabels.map(([x, y1, y2, s], i) => (
        <React.Fragment key={i}>
          <Txt x={x} y={y1} size={s} bold center>Micro-tab</Txt>
          <Txt x={x} y={y2} size={s} bold center>effect</Txt>
        </React.Fragment>
      ))}
      {legendLabels.map(([t, x, y, s], i) => (
        <Txt key={i} x={x} y={y} size={s} color="#333">{t}</Txt>
      ))}
      {yTitles.map(([x, y, s], i) => (
        <Txt key={i} x={x} y={y} size={s} bold center rot={-90}>pressure coefficient (C<P />)</Txt>
      ))}
      {xTitles.map(([x, y, s], i) => (
        <Txt key={i} x={x} y={y} size={s} bold center>x/c</Txt>
      ))}
    </div>
  );
}
